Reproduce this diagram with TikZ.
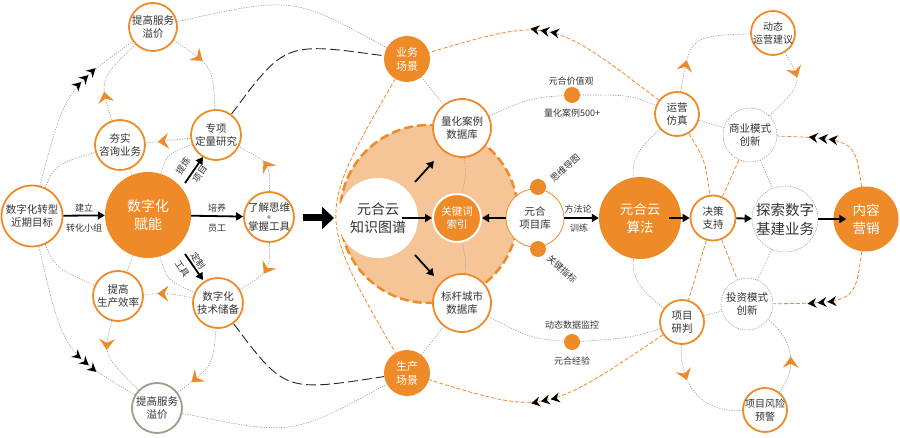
\documentclass[tikz,border=0pt]{standalone}
\usepackage{fontspec}
\setmainfont{Noto Sans CJK SC}
\usetikzlibrary{arrows.meta,decorations.markings}
\definecolor{orgc}{HTML}{EE8A27}
\definecolor{lorg}{HTML}{F6C597}
\definecolor{gdc}{HTML}{9A9A9A}
\definecolor{oliv}{HTML}{A09E86}
\definecolor{txt}{HTML}{333333}
\newcommand\fsz[2]{\fontsize{#1}{#2}\selectfont}
\pgfdeclarelayer{bglayer}
\pgfsetlayers{bglayer,main}
\tikzset{
  base/.style={circle, inner sep=-8pt, align=center, text=txt},
  onode/.style={base, draw=orgc, line width=1.8pt, fill=white, font=\fsz{10.5}{13}},
  fnode/.style={base, fill=orgc, text=white},
  gnode/.style={base, draw=gdc, line width=0.6pt, dash pattern=on 1.2pt off 1.2pt, fill=white, font=\fsz{10.5}{13}},
  dotn/.style={circle, fill=orgc, minimum size=16pt, inner sep=0pt},
  lbl/.style={font=\fsz{9}{11}, text=txt, inner sep=1pt},
  gdot/.style={draw=gdc, line width=0.6pt, dash pattern=on 1.2pt off 1.3pt},
  odash/.style={draw=orgc, line width=0.8pt, dash pattern=on 4pt off 2pt},
  kdash/.style={draw=black!85, line width=0.9pt, dash pattern=on 10pt off 4pt},
  karr/.style={draw=black, line width=1.8pt, -{Triangle[length=7pt,width=8pt]}},
  bigarr/.style={draw=black, line width=7pt, -{Triangle[length=12pt,width=22pt]}},
  oar/.style={postaction={decorate,decoration={markings,mark=at position #1 with {\fill[orgc] (5pt,0pt) -- (-6pt,8pt) -- (-2pt,0pt) -- (-6pt,-8pt) -- cycle;}}}},
  kch/.style={postaction={decorate,decoration={markings,mark=at position #1 with {\foreach \d in {-10,0,10}{\fill[black] ({\d*1pt+5pt},0pt) -- ({\d*1pt-4pt},5pt) -- ({\d*1pt-1pt},0pt) -- ({\d*1pt-4pt},-5pt) -- cycle;}}}}},
}
\begin{document}
\begin{tikzpicture}[x=1pt,y=-1pt]
\useasboundingbox (0,0) rectangle (900,438);
% ---------- nodes: left ----------
\node[onode, minimum size=48pt] (top) at (153,27) {提高服务\\溢价};
\node[onode, minimum size=50pt] (hang) at (120,145) {夯实\\咨询业务};
\node[onode, minimum size=50pt] (zx) at (216,135) {专项\\定量研究};
\node[onode, minimum size=61pt] (zhx) at (32,216) {数字化转型\\近期目标};
\node[fnode, minimum size=86pt, font=\fsz{14}{18}] (fn) at (148,215) {数字化\\赋能};
\node[onode, minimum size=50pt] (lj) at (269,217) {了解思维\\[-4pt]{\fsz{8}{8}+}\\[-3pt]掌握工具};
\node[onode, minimum size=50pt] (sc) at (118,296) {提高\\生产效率};
\node[onode, minimum size=50pt] (js) at (218,303) {数字化\\技术储备};
\node[onode, draw=oliv, minimum size=50pt] (bot) at (157,408) {提高服务\\溢价};
% ---------- nodes: centre ----------
\node[fnode, minimum size=46pt, font=\fsz{11}{14}] (yw) at (407,59) {业务\\场景};
\node[fnode, minimum size=46pt, font=\fsz{11}{14}] (sc2) at (407,373) {生产\\场景};
\node[onode, minimum size=58pt] (lh) at (462,128) {量化案例\\数据库};
\node[onode, minimum size=58pt] (bgc) at (462,303) {标杆城市\\数据库};
\node[fnode, draw=white, line width=2pt, minimum size=48pt, font=\fsz{10.5}{13}] (kw) at (457,218) {关键词\\索引};
\node[onode, line width=0.8pt, minimum size=58pt] (xm) at (535,218) {元合\\项目库};
\node[dotn] (d1) at (538,187) {};
\node[dotn] (d2) at (538,249) {};
\node[dotn] (jz) at (572,95) {};
\node[dotn] (dt) at (572,342) {};
% ---------- nodes: right ----------
\node[fnode, minimum size=82pt, font=\fsz{13.5}{18}] (sf) at (640,218) {元合云\\算法};
\node[onode, minimum size=45pt] (jc) at (713,218) {决策\\支持};
\node[gnode, minimum size=66pt, font=\fsz{14.5}{19}] (ts) at (785,219) {探索数字\\基建业务};
\node[fnode, minimum size=65pt, font=\fsz{13.5}{18}] (nr) at (866,219) {内容\\营销};
\node[onode, minimum size=44pt] (yy) at (677,114) {运营\\仿真};
\node[gnode, minimum size=54pt] (sy) at (750,135) {商业模式\\创新};
\node[onode, minimum size=44pt, font=\fsz{10}{13}] (dy) at (773,33) {动态\\运营建议};
\node[gnode, minimum size=52pt] (tz) at (747,304) {投资模式\\创新};
\node[onode, minimum size=44pt] (yp) at (682,322) {项目\\研判};
\node[onode, minimum size=44pt, font=\fsz{10}{13}] (fx) at (765,410) {项目风险\\预警};
% ---------- background: big circle and connectors ----------
\begin{pgfonlayer}{bglayer}
\node[circle, minimum size=178pt, inner sep=0pt, fill=lorg, draw=orgc, line width=2.5pt, dash pattern=on 9pt off 4pt] (big) at (429,214) {};
\node[base, fill=white, minimum size=80pt, font=\fsz{14}{18}] (kg) at (378,218) {元合云\\知识图谱};
% left cycle
\draw[gdot, oar=0.35] (top) .. controls (213,66) .. (zx);
\draw[gdot, oar=0.28] (hang) .. controls (99,80) .. (top);
\draw[gdot, oar=0.62] (zx) .. controls (168,141) .. (hang);
\draw[gdot, oar=0.45] (lj) .. controls (270,163) .. (zx);
\draw[gdot, oar=0.45] (lj) .. controls (270,271) .. (js);
\draw[gdot, oar=0.62] (js) .. controls (168,293) .. (sc);
\draw[gdot, oar=0.3] (sc) .. controls (103,355) .. (bot);
\draw[gdot, oar=0.72] (js) .. controls (213,366) .. (bot);
\draw[gdot] (zhx) .. controls (56,164) .. (hang);
\draw[gdot] (zhx) .. controls (56,268) .. (sc);
\draw[gdot] (hang) -- (fn);
\draw[gdot] (fn) .. controls (167,154) .. (zx);
\draw[gdot] (fn) .. controls (167,280) .. (js);
\draw[gdot] (fn) -- (sc);
\draw[gdot, kch=0.66] (zhx) .. controls (65,90) .. (top);
\draw[gdot, kch=0.68] (zhx) .. controls (63,352) .. (bot);
\draw[gdot] (top) .. controls (293,-4) .. (yw);
\draw[gdot] (bot) .. controls (292,436) .. (sc2);
\draw[kdash] (zx) .. controls (285,42) .. (yw);
\draw[kdash] (js) .. controls (285,392) .. (sc2);
% centre
\draw[odash] (yw) .. controls (316,215) .. (sc2);
\draw[odash, kch=0.53] (yy) .. controls (550,17) .. (yw);
\draw[odash, kch=0.53] (yp) .. controls (544,415) .. (sc2);
\draw[gdot] (yw) -- (lh);
\draw[gdot] (sc2) -- (bgc);
\draw[gdot] (lh) .. controls (466,175) .. (kw);
\draw[gdot] (kw) .. controls (466,261) .. (bgc);
\draw[gdot] (lh) .. controls (530,98) .. (jz);
\draw[gdot] (jz) .. controls (630,95) .. (yy);
\draw[gdot] (bgc) .. controls (530,338) .. (dt);
\draw[gdot] (dt) .. controls (630,338) .. (yp);
% right
\draw[gdot, oar=0.25] (yy) .. controls (690,36) .. (dy);
\draw[gdot, oar=0.3] (dy) .. controls (803,83) .. (sy);
\draw[gdot] (yy) -- (sy);
\draw[gdot] (yy) .. controls (648,140) and (630,155) .. (sf);
\draw[odash] (yy) .. controls (705,160) .. (jc);
\draw[odash] (sy) -- (jc);
\draw[gdot] (sy) -- (ts);
\draw[odash, kch=0.6] (nr) .. controls (855,139) .. (sy);
\draw[odash, kch=0.6] (nr) .. controls (855,303) .. (tz);
\draw[odash] (jc) -- (yp);
\draw[odash] (jc) -- (tz);
\draw[gdot] (ts) -- (tz);
\draw[gdot] (yp) -- (tz);
\draw[gdot] (sf) .. controls (630,281) and (648,296) .. (yp);
\draw[gdot, oar=0.3] (yp) .. controls (680,385) and (700,412) .. (fx);
\draw[gdot, oar=0.4] (fx) .. controls (797,370) and (795,340) .. (tz);
\end{pgfonlayer}
% ---------- solid arrows ----------
\coordinate (a1s) at (185,183);
\coordinate (a1e) at (203,157);
\coordinate (a2s) at (185,254);
\coordinate (a2e) at (203,280);
\coordinate (bas) at (303,218);
\coordinate (bae) at (334,218);
\coordinate (k1s) at (415,182);
\coordinate (k1e) at (434,161);
\coordinate (k2s) at (415,255);
\coordinate (k2e) at (434,276);
\draw[karr] (zhx) -- (fn);
\draw[karr] (fn) -- (lj);
\draw[karr] (a1s) -- (a1e);
\draw[karr] (a2s) -- (a2e);
\draw[bigarr] (bas) -- (bae);
\draw[karr] ([xshift=-16pt]kg.east) -- (kw);
\draw[karr] (k1s) -- (k1e);
\draw[karr] (k2s) -- (k2e);
\draw[karr] (xm) -- (sf);
\draw[karr] (xm) -- (kw);
\draw[karr] ([xshift=-12pt]sf.east) -- (jc);
\draw[karr] (jc) -- (ts);
\draw[karr] (ts) -- ([xshift=13pt]nr.west);
% ---------- labels ----------
\node[lbl] (t1) at (84,208) {建立};
\node[lbl] (t2) at (84,228) {转化小组};
\node[lbl] (t3) at (217,208) {培养};
\node[lbl] (t4) at (217,228) {员工};
\node[lbl, rotate=56] (t5) at (183,166) {提炼};
\node[lbl, rotate=56] (t6) at (200,174) {项目};
\node[lbl, rotate=-56] (t7) at (198,261) {定制};
\node[lbl, rotate=-56] (t8) at (182,269) {工具};
\node[lbl] (t9) at (578,209) {方法论};
\node[lbl] (t10) at (579,228) {训练};
\node[lbl] (t11) at (571,81) {元合价值观};
\node[lbl] (t12) at (572,113) {量化案例500+};
\node[lbl] (t13) at (572,325) {动态数据监控};
\node[lbl] (t14) at (572,361) {元合经验};
\node[lbl, rotate=42] (t15) at (565,168) {思维导图};
\node[lbl, rotate=-42] (t16) at (562,269) {关键指标};
\end{tikzpicture}
\end{document}
